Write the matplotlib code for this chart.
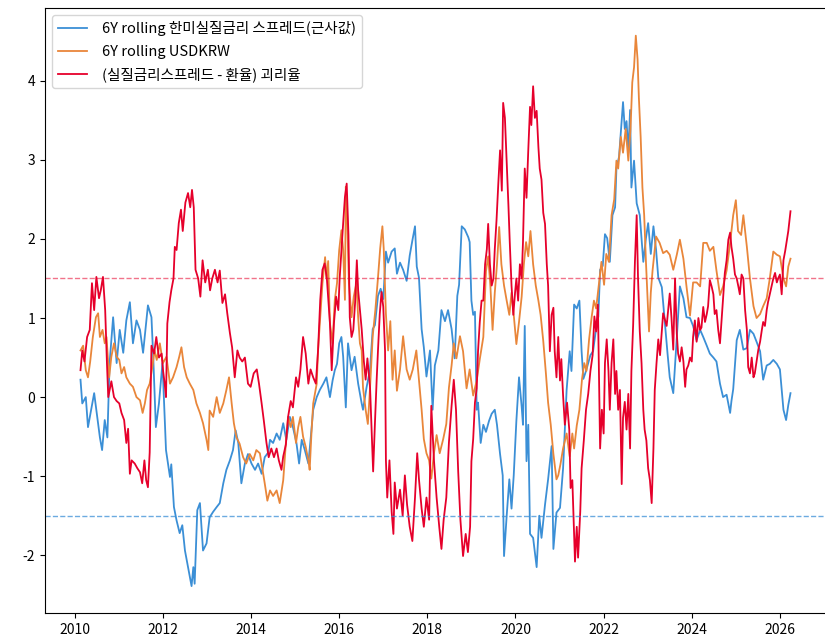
import matplotlib.pyplot as plt

plt.rcParams['font.family'] = ['Noto Sans CJK KR', 'DejaVu Sans']
plt.rcParams['axes.unicode_minus'] = False

# decimal year / z-score
blue_t = [2010.13, 2010.17, 2010.25, 2010.30, 2010.38, 2010.44, 2010.51, 2010.57, 2010.62, 2010.68,
          2010.74, 2010.79, 2010.87, 2010.95, 2011.02, 2011.10, 2011.17, 2011.25, 2011.32, 2011.40,
          2011.48, 2011.55, 2011.66, 2011.74, 2011.78, 2011.84, 2011.91, 2011.99, 2012.07, 2012.16,
          2012.19, 2012.25, 2012.31, 2012.38, 2012.44, 2012.50, 2012.57, 2012.65, 2012.69, 2012.72,
          2012.78, 2012.84, 2012.91, 2012.99, 2013.06, 2013.14, 2013.22, 2013.29, 2013.37, 2013.44,
          2013.52, 2013.59, 2013.65, 2013.71, 2013.78, 2013.86, 2013.93, 2014.01, 2014.09, 2014.16,
          2014.24, 2014.31, 2014.39, 2014.43, 2014.50, 2014.58, 2014.65, 2014.73, 2014.80, 2014.88,
          2014.95, 2015.03, 2015.09, 2015.15, 2015.22, 2015.30, 2015.35, 2015.41, 2015.49, 2015.56,
          2015.64, 2015.71, 2015.79, 2015.85, 2015.90, 2015.95, 2016.00, 2016.05, 2016.09, 2016.15,
          2016.20, 2016.28, 2016.35, 2016.43, 2016.51, 2016.54, 2016.62, 2016.70, 2016.76, 2016.81,
          2016.88, 2016.94, 2017.00, 2017.06, 2017.11, 2017.19, 2017.26, 2017.31, 2017.38, 2017.45,
          2017.53, 2017.60, 2017.66, 2017.72, 2017.76, 2017.81, 2017.87, 2017.92, 2017.98, 2018.06,
          2018.12, 2018.17, 2018.25, 2018.32, 2018.40, 2018.47, 2018.55, 2018.62, 2018.68, 2018.72,
          2018.78, 2018.85, 2018.93, 2018.96, 2019.00, 2019.04, 2019.08, 2019.12, 2019.15, 2019.21,
          2019.27, 2019.33, 2019.40, 2019.46, 2019.53, 2019.58, 2019.65, 2019.71, 2019.74, 2019.80,
          2019.86, 2019.91, 2019.96, 2020.02, 2020.08, 2020.14, 2020.17, 2020.21, 2020.25, 2020.29,
          2020.33, 2020.40, 2020.48, 2020.54, 2020.59, 2020.67, 2020.74, 2020.82, 2020.86, 2020.93,
          2021.01, 2021.08, 2021.16, 2021.23, 2021.27, 2021.33, 2021.39, 2021.45, 2021.50, 2021.54,
          2021.60, 2021.65, 2021.70, 2021.76, 2021.82, 2021.88, 2021.92, 2021.98, 2022.03, 2022.08,
          2022.14, 2022.20, 2022.26, 2022.29, 2022.35, 2022.41, 2022.44, 2022.48, 2022.52, 2022.56,
          2022.60, 2022.63, 2022.69, 2022.75, 2022.82, 2022.90, 2022.96, 2023.01, 2023.07, 2023.13,
          2023.19, 2023.24, 2023.32, 2023.39, 2023.45, 2023.50, 2023.58, 2023.66, 2023.73, 2023.81,
          2023.88, 2023.96, 2024.03, 2024.11, 2024.19, 2024.26, 2024.34, 2024.41, 2024.49, 2024.56,
          2024.64, 2024.71, 2024.79, 2024.87, 2024.90, 2024.94, 2025.02, 2025.09, 2025.17, 2025.25,
          2025.32, 2025.40, 2025.47, 2025.55, 2025.62, 2025.70, 2025.77, 2025.85, 2025.93, 2026.00,
          2026.08, 2026.14, 2026.19, 2026.24]
blue_v = [0.22, -0.08, 0.00, -0.38, -0.13, 0.05, -0.25, -0.51, -0.67, -0.29,
          -0.51, 0.43, 1.01, 0.43, 0.85, 0.56, 0.97, 1.20, 0.68, 0.97,
          0.85, 0.56, 1.16, 1.01, 0.51, -0.38, -0.08, 0.43, -0.67, -1.01,
          -0.85, -1.39, -1.56, -1.72, -1.62, -1.94, -2.15, -2.39, -2.15, -2.36,
          -1.43, -1.34, -1.94, -1.85, -1.52, -1.45, -1.39, -1.34, -1.09, -0.92,
          -0.80, -0.67, -0.42, -0.58, -1.09, -0.84, -0.72, -0.84, -0.92, -0.84,
          -0.97, -0.76, -0.70, -0.54, -0.58, -0.46, -0.54, -0.33, -0.54, -0.25,
          -0.38, -0.58, -0.84, -0.54, -0.67, -0.84, -0.54, -0.16, 0.00, 0.09,
          0.17, 0.25, 0.00, 0.21, 0.34, 0.42, 0.68, 0.76, 0.51, -0.13,
          0.68, 0.34, 0.51, 0.17, -0.08, -0.16, 0.12, 0.35, 0.86, 0.91,
          1.28, 1.37, 1.24, 1.84, 1.70, 1.84, 1.88, 1.56, 1.70, 1.61,
          1.47, 1.79, 1.98, 2.16, 1.65, 1.51, 0.86, 0.63, 0.26, 0.59,
          -0.16, 0.40, 0.59, 1.10, 0.96, 1.10, 0.86, 0.49, 1.28, 1.42,
          2.16, 2.12, 2.02, 1.96, 1.22, 1.04, 1.08, -0.16, -0.07, -0.58,
          -0.35, -0.44, -0.30, -0.21, -0.16, -0.35, -0.72, -0.99, -2.01, -1.50,
          -1.04, -1.41, -0.99, -0.30, 0.25, -0.12, -0.35, 0.90, -0.81, -0.35,
          -1.73, -1.78, -2.15, -1.50, -1.78, -1.36, -1.04, -0.62, -1.92, -1.46,
          -1.40, -0.90, 0.09, 0.58, 0.33, 1.17, 1.12, 1.22, 0.58, 0.23,
          0.33, 0.43, 0.53, 0.58, 0.83, 1.02, 1.61, 1.66, 2.06, 2.01,
          1.71, 2.30, 2.40, 2.89, 3.04, 3.49, 3.73, 3.39, 3.49, 3.09,
          3.63, 2.65, 2.99, 2.45, 2.30, 1.71, 2.01, 2.20, 1.81, 2.16,
          1.86, 1.51, 1.39, 0.93, 0.55, 0.25, 0.05, 0.75, 1.40, 1.25,
          1.01, 1.00, 0.90, 0.72, 0.85, 0.76, 0.65, 0.55, 0.50, 0.45,
          0.17, 0.00, 0.03, -0.20, -0.05, 0.10, 0.72, 0.85, 0.60, 0.62,
          0.85, 0.80, 0.70, 0.58, 0.22, 0.40, 0.42, 0.47, 0.42, 0.35,
          -0.16, -0.29, -0.10, 0.05]

orange_t = [2010.13, 2010.19, 2010.25, 2010.30, 2010.35, 2010.41, 2010.48, 2010.53, 2010.57, 2010.63,
            2010.68, 2010.72, 2010.78, 2010.83, 2010.89, 2010.95, 2011.01, 2011.06, 2011.12, 2011.17,
            2011.25, 2011.32, 2011.40, 2011.48, 2011.54, 2011.59, 2011.64, 2011.70, 2011.76, 2011.81,
            2011.86, 2011.93, 2012.00, 2012.08, 2012.16, 2012.23, 2012.31, 2012.37, 2012.42, 2012.48,
            2012.54, 2012.61, 2012.69, 2012.76, 2012.84, 2012.91, 2012.99, 2013.03, 2013.06, 2013.14,
            2013.22, 2013.29, 2013.37, 2013.44, 2013.50, 2013.56, 2013.61, 2013.67, 2013.74, 2013.82,
            2013.89, 2013.97, 2014.05, 2014.12, 2014.20, 2014.27, 2014.31, 2014.37, 2014.43, 2014.50,
            2014.58, 2014.65, 2014.73, 2014.79, 2014.84, 2014.90, 2014.95, 2015.02, 2015.07, 2015.12,
            2015.18, 2015.24, 2015.30, 2015.33, 2015.37, 2015.41, 2015.49, 2015.52, 2015.56, 2015.62,
            2015.68, 2015.71, 2015.75, 2015.79, 2015.85, 2015.90, 2015.95, 2016.00, 2016.05, 2016.09,
            2016.13, 2016.15, 2016.18, 2016.22, 2016.28, 2016.33, 2016.39, 2016.43, 2016.47, 2016.51,
            2016.54, 2016.60, 2016.65, 2016.70, 2016.76, 2016.82, 2016.88, 2016.93, 2016.98, 2017.01,
            2017.06, 2017.11, 2017.16, 2017.21, 2017.26, 2017.31, 2017.38, 2017.45, 2017.53, 2017.60,
            2017.67, 2017.75, 2017.81, 2017.87, 2017.92, 2017.98, 2018.04, 2018.09, 2018.15, 2018.21,
            2018.28, 2018.36, 2018.43, 2018.49, 2018.55, 2018.60, 2018.66, 2018.74, 2018.81, 2018.89,
            2018.96, 2019.04, 2019.12, 2019.19, 2019.27, 2019.33, 2019.38, 2019.43, 2019.48, 2019.53,
            2019.58, 2019.63, 2019.68, 2019.74, 2019.80, 2019.86, 2019.91, 2019.96, 2020.02, 2020.08,
            2020.14, 2020.19, 2020.24, 2020.29, 2020.34, 2020.40, 2020.46, 2020.52, 2020.57, 2020.63,
            2020.69, 2020.74, 2020.80, 2020.86, 2020.93, 2020.97, 2021.02, 2021.08, 2021.16, 2021.23,
            2021.29, 2021.33, 2021.39, 2021.45, 2021.51, 2021.56, 2021.61, 2021.67, 2021.73, 2021.78,
            2021.83, 2021.89, 2021.95, 2022.01, 2022.06, 2022.12, 2022.18, 2022.24, 2022.29, 2022.33,
            2022.39, 2022.44, 2022.50, 2022.56, 2022.61, 2022.65, 2022.69, 2022.73, 2022.77, 2022.80,
            2022.84, 2022.88, 2022.92, 2022.96, 2022.99, 2023.03, 2023.07, 2023.11, 2023.19, 2023.27,
            2023.35, 2023.43, 2023.50, 2023.58, 2023.66, 2023.73, 2023.81, 2023.88, 2023.96, 2024.03,
            2024.11, 2024.19, 2024.26, 2024.34, 2024.41, 2024.49, 2024.56, 2024.64, 2024.71, 2024.79,
            2024.87, 2024.94, 2025.00, 2025.05, 2025.12, 2025.17, 2025.25, 2025.32, 2025.40, 2025.47,
            2025.55, 2025.62, 2025.70, 2025.77, 2025.85, 2025.93, 2026.00, 2026.08, 2026.14, 2026.19,
            2026.24]
orange_v = [0.59, 0.65, 0.34, 0.25, 0.45, 0.76, 1.01, 1.06, 0.76, 0.85,
            0.68, 0.76, 0.25, 0.51, 0.68, 0.51, 0.47, 0.30, 0.38, 0.25,
            0.17, 0.13, 0.00, -0.04, -0.20, -0.08, 0.09, 0.17, 0.38, 0.59,
            0.47, 0.68, 0.43, 0.51, 0.17, 0.25, 0.38, 0.51, 0.63, 0.38,
            0.25, 0.17, 0.09, -0.08, -0.20, -0.33, -0.54, -0.67, -0.17, -0.25,
            0.00, -0.20, -0.08, 0.09, 0.25, -0.08, -0.33, -0.51, -0.59, -0.76,
            -0.84, -0.72, -0.80, -0.67, -0.71, -0.95, -1.09, -1.31, -1.18, -1.25,
            -1.18, -1.34, -1.05, -0.58, -0.25, -0.38, -0.25, -0.58, -0.38, -0.25,
            -0.50, -0.63, -0.80, -0.92, -0.46, -0.08, 0.17, 0.59, 0.93, 1.44,
            1.77, 1.50, 1.72, 0.93, 0.68, 1.23, 1.44, 1.86, 2.11, 1.86,
            1.23, 2.66, 2.30, 1.44, 1.01, 1.27, 1.44, 1.01, 0.68, 0.59,
            0.12, -0.16, -0.34, 0.12, 0.77, 1.10, 1.51, 1.88, 2.16, 1.88,
            1.05, 0.59, 0.96, 0.22, 0.59, 0.08, 0.35, 0.77, 0.35, 0.22,
            0.35, 0.59, 0.22, -0.16, -0.53, -0.71, -0.80, -1.03, -0.71, -0.48,
            -0.71, -0.53, -0.34, 0.12, 0.40, 0.68, 0.49, 0.77, 0.58, 0.11,
            0.35, 0.02, 0.21, 0.48, 0.76, 1.59, 1.78, 1.41, 0.85, 1.32,
            1.68, 2.15, 1.68, 1.41, 1.22, 1.04, 1.32, 1.04, 0.67, 0.95,
            1.27, 1.68, 1.96, 1.78, 2.10, 1.68, 1.41, 1.22, 1.04, 0.71,
            0.30, -0.07, -0.35, -0.72, -1.04, -0.99, -0.85, -0.65, -0.46, -0.75,
            -0.46, -0.65, -0.36, -0.16, 0.23, 0.43, 0.33, 0.73, 1.02, 1.22,
            1.12, 1.42, 1.71, 1.42, 1.81, 1.71, 2.30, 2.50, 2.99, 2.89,
            3.29, 3.09, 3.39, 2.99, 3.39, 3.98, 4.17, 4.57, 4.27, 3.78,
            3.29, 2.65, 2.30, 1.71, 1.32, 0.83, 1.32, 1.60, 2.03, 1.95,
            1.82, 1.85, 1.80, 1.61, 1.80, 1.99, 1.75, 1.40, 1.03, 1.45,
            1.45, 1.40, 1.95, 1.95, 1.85, 1.90, 1.60, 1.29, 1.40, 1.60,
            1.95, 2.30, 2.49, 2.10, 2.05, 2.30, 1.90, 1.50, 1.15, 1.00,
            1.05, 1.15, 1.25, 1.50, 1.84, 1.80, 1.78, 1.50, 1.40, 1.65,
            1.75]

red_t = [2010.13, 2010.17, 2010.22, 2010.28, 2010.34, 2010.39, 2010.44, 2010.49, 2010.55, 2010.59,
         2010.64, 2010.69, 2010.73, 2010.76, 2010.83, 2010.89, 2010.95, 2011.01, 2011.06, 2011.12,
         2011.17, 2011.21, 2011.25, 2011.29, 2011.36, 2011.42, 2011.48, 2011.53, 2011.58, 2011.62,
         2011.66, 2011.70, 2011.74, 2011.80, 2011.85, 2011.91, 2011.97, 2012.00, 2012.04, 2012.07,
         2012.10, 2012.15, 2012.19, 2012.24, 2012.27, 2012.31, 2012.36, 2012.41, 2012.45, 2012.51,
         2012.57, 2012.62, 2012.66, 2012.70, 2012.74, 2012.80, 2012.85, 2012.90, 2012.96, 2013.02,
         2013.07, 2013.12, 2013.18, 2013.24, 2013.29, 2013.35, 2013.41, 2013.46, 2013.52, 2013.57,
         2013.63, 2013.69, 2013.74, 2013.80, 2013.86, 2013.93, 2013.99, 2014.06, 2014.13, 2014.18,
         2014.24, 2014.29, 2014.35, 2014.40, 2014.46, 2014.52, 2014.58, 2014.63, 2014.69, 2014.73,
         2014.79, 2014.84, 2014.90, 2014.95, 2015.02, 2015.07, 2015.12, 2015.18, 2015.24, 2015.30,
         2015.35, 2015.41, 2015.47, 2015.52, 2015.57, 2015.62, 2015.67, 2015.72, 2015.79, 2015.83,
         2015.88, 2015.93, 2015.98, 2016.01, 2016.05, 2016.09, 2016.13, 2016.17, 2016.21, 2016.24,
         2016.28, 2016.32, 2016.36, 2016.40, 2016.43, 2016.47, 2016.51, 2016.56, 2016.60, 2016.64,
         2016.70, 2016.73, 2016.77, 2016.81, 2016.85, 2016.88, 2016.92, 2016.96, 2017.00, 2017.04,
         2017.06, 2017.09, 2017.14, 2017.19, 2017.23, 2017.26, 2017.31, 2017.38, 2017.44, 2017.49,
         2017.54, 2017.60, 2017.66, 2017.72, 2017.77, 2017.81, 2017.87, 2017.92, 2017.98, 2018.04,
         2018.09, 2018.15, 2018.21, 2018.27, 2018.32, 2018.37, 2018.43, 2018.49, 2018.55, 2018.60,
         2018.65, 2018.70, 2018.75, 2018.81, 2018.87, 2018.92, 2018.97, 2019.00, 2019.04, 2019.08,
         2019.12, 2019.15, 2019.19, 2019.23, 2019.27, 2019.31, 2019.35, 2019.38, 2019.42, 2019.46,
         2019.50, 2019.53, 2019.57, 2019.61, 2019.65, 2019.69, 2019.72, 2019.76, 2019.80, 2019.84,
         2019.87, 2019.91, 2019.95, 2019.99, 2020.02, 2020.06, 2020.10, 2020.14, 2020.17, 2020.21,
         2020.25, 2020.29, 2020.33, 2020.36, 2020.40, 2020.44, 2020.48, 2020.52, 2020.55, 2020.59,
         2020.63, 2020.67, 2020.71, 2020.74, 2020.78, 2020.82, 2020.86, 2020.89, 2020.93, 2020.97,
         2021.01, 2021.04, 2021.08, 2021.12, 2021.17, 2021.22, 2021.25, 2021.29, 2021.33, 2021.35,
         2021.39, 2021.42, 2021.47, 2021.50, 2021.55, 2021.60, 2021.65, 2021.70, 2021.75, 2021.79,
         2021.83, 2021.87, 2021.90, 2021.92, 2021.96, 2022.00, 2022.03, 2022.07, 2022.11, 2022.14,
         2022.18, 2022.22, 2022.26, 2022.29, 2022.33, 2022.37, 2022.41, 2022.44, 2022.48, 2022.52,
         2022.56, 2022.60, 2022.63, 2022.67, 2022.71, 2022.75, 2022.78, 2022.82, 2022.86, 2022.90,
         2022.93, 2022.97, 2023.01, 2023.05, 2023.09, 2023.13, 2023.16, 2023.20, 2023.24, 2023.28,
         2023.32, 2023.35, 2023.43, 2023.50, 2023.54, 2023.58, 2023.62, 2023.66, 2023.69, 2023.73,
         2023.77, 2023.81, 2023.85, 2023.88, 2023.92, 2023.96, 2024.00, 2024.03, 2024.07, 2024.11,
         2024.15, 2024.19, 2024.22, 2024.26, 2024.30, 2024.34, 2024.37, 2024.41, 2024.45, 2024.49,
         2024.52, 2024.56, 2024.60, 2024.64, 2024.68, 2024.71, 2024.75, 2024.79, 2024.83, 2024.87,
         2024.90, 2024.94, 2024.98, 2025.02, 2025.06, 2025.09, 2025.13, 2025.17, 2025.21, 2025.25,
         2025.28, 2025.32, 2025.36, 2025.40, 2025.43, 2025.47, 2025.51, 2025.55, 2025.59, 2025.62,
         2025.66, 2025.70, 2025.73, 2025.77, 2025.81, 2025.85, 2025.89, 2025.93, 2025.96, 2026.00,
         2026.04, 2026.08, 2026.12, 2026.16, 2026.19, 2026.24]
red_v = [0.34, 0.59, 0.45, 0.76, 0.85, 1.44, 1.10, 1.52, 1.25, 1.35,
         1.52, 1.10, 0.43, 0.00, 0.20, 0.00, -0.05, -0.08, -0.20, -0.29,
         -0.58, -0.40, -0.97, -0.80, -0.84, -0.90, -0.95, -1.09, -0.80, -1.05,
         -1.14, -0.70, 0.65, 0.55, 0.76, 0.50, 0.55, 0.35, 0.17, 0.00,
         0.93, 1.20, 1.35, 1.50, 1.90, 1.86, 2.20, 2.37, 2.10, 2.46,
         2.58, 2.40, 2.62, 2.40, 1.61, 1.50, 1.27, 1.73, 1.45, 1.61,
         1.35, 1.50, 1.61, 1.45, 1.60, 1.19, 1.30, 1.06, 0.81, 0.63,
         0.25, 0.59, 0.50, 0.45, 0.50, 0.17, 0.13, 0.30, 0.35, 0.17,
         -0.08, -0.30, -0.58, -0.76, -0.65, -0.76, -0.65, -0.80, -0.92, -0.75,
         -0.60, -0.25, -0.05, -0.13, 0.25, 0.13, 0.35, 0.76, 0.55, 0.17,
         0.35, 0.25, 0.17, 0.59, 1.23, 1.61, 1.69, 1.50, 0.93, 0.34,
         0.93, 1.27, 1.10, 1.50, 1.86, 2.20, 2.53, 2.70, 2.05, 1.01,
         0.76, 0.85, 1.19, 1.73, 1.35, 1.10, 0.86, 0.45, 0.22, 0.49,
         0.12, -0.34, -0.94, -0.34, 0.22, 0.59, 1.05, 1.33, 1.14, 0.59,
         -0.80, -1.27, -0.80, -1.45, -1.73, -1.08, -1.41, -1.17, -1.50, -0.99,
         -1.36, -1.64, -1.82, -1.27, -0.71, -1.04, -1.41, -1.64, -1.27, -1.55,
         -0.11, -0.80, -1.27, -1.64, -1.92, -1.55, -1.27, -0.57, -0.11, 0.22,
         -0.16, -0.94, -1.55, -2.01, -1.73, -1.96, -1.64, -0.81, -0.53, -0.07,
         0.11, 0.58, 0.95, 1.22, 1.22, 1.68, 1.87, 2.19, 1.68, 1.41,
         1.50, 1.87, 2.24, 2.70, 3.12, 2.61, 3.72, 3.53, 2.98, 2.42,
         1.96, 1.41, 1.04, 1.32, 1.50, 1.22, 1.68, 1.50, 1.96, 2.89,
         2.52, 3.12, 3.67, 3.44, 3.93, 3.53, 3.62, 3.16, 2.89, 2.75,
         2.33, 2.19, 1.68, 1.41, 0.58, 1.04, 1.13, 0.58, 0.25, 0.76,
         0.21, 0.48, 0.02, -0.35, -0.07, -0.41, -1.15, -1.05, -1.74, -2.08,
         -1.64, -2.03, -1.44, -0.90, -0.55, -0.16, 0.04, 0.33, 0.53, 1.02,
         0.83, 1.17, 0.09, -0.65, -0.16, -0.46, 0.43, 0.73, 0.33, -0.16,
         0.43, 0.73, 0.04, 0.33, -0.16, 0.09, -1.10, -0.26, -0.06, -0.41,
         0.04, -0.65, 0.33, 0.92, 1.71, 2.30, 1.51, 0.83, 0.43, -0.16,
         -0.41, -0.55, -0.90, -1.05, -1.34, -0.65, 0.09, 0.43, 0.73, 0.53,
         0.83, 1.06, 0.90, 1.31, 1.00, 0.60, 1.50, 0.80, 0.55, 0.45,
         0.63, 0.45, 0.13, 0.35, 0.40, 0.50, 0.45, 0.76, 0.97, 0.70,
         1.00, 0.85, 0.88, 1.14, 0.95, 1.05, 1.15, 1.48, 1.40, 1.30,
         1.05, 1.10, 0.85, 0.68, 1.00, 1.25, 1.57, 1.73, 1.99, 2.08,
         1.90, 1.75, 1.55, 1.50, 1.39, 1.30, 1.55, 1.50, 1.10, 0.85,
         0.38, 0.30, 0.50, 0.25, 0.30, 0.45, 0.60, 0.70, 0.85, 0.95,
         0.90, 1.10, 1.20, 1.30, 1.40, 1.50, 1.57, 1.45, 1.50, 1.55,
         1.30, 1.73, 1.85, 1.99, 2.10, 2.35]

upper_band = 1.5
lower_band = -1.5
xticks = list(range(2010, 2027, 2))

fig = plt.figure(figsize=(8.25, 6.39), dpi=100)
ax = fig.add_axes([45 / 825, 26 / 639, 781 / 825, 605 / 639])

ax.plot(blue_t, blue_v, color='#3b8fd6', lw=1.3, label='6Y rolling 한미실질금리 스프레드(근사값)')
ax.plot(orange_t, orange_v, color='#e9863a', lw=1.3, label='6Y rolling USDKRW')
ax.plot(red_t, red_v, color='#e6002b', lw=1.3, label='(실질금리스프레드 - 환율) 괴리율')
ax.axhline(upper_band, color='#e6002b', ls='--', lw=1.0, alpha=0.55)
ax.axhline(lower_band, color='#3b8fd6', ls='--', lw=1.0, alpha=0.75)

ax.set_ylim(-2.73, 4.92)
ax.set_xticks(xticks)
ax.tick_params(labelsize=10)
ax.legend(loc='upper left', fontsize=10.5, labelspacing=0.6, handletextpad=1.0)

fig.savefig('out.png', dpi=100)
